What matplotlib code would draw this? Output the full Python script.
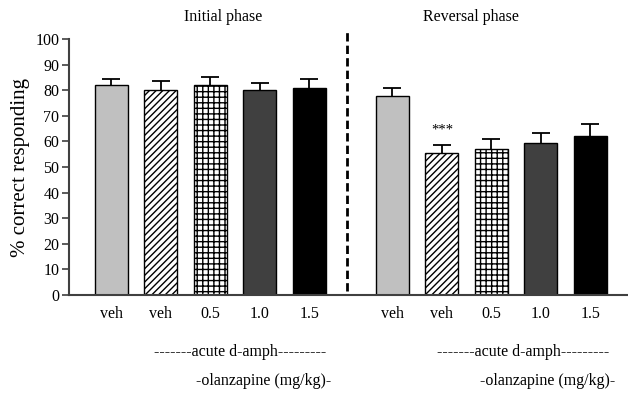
import numpy as np
import matplotlib
matplotlib.use("Agg")
import matplotlib.pyplot as plt

plt.rcParams["font.family"] = ["Liberation Serif", "DejaVu Serif"]
plt.rcParams["hatch.linewidth"] = 1.0

# data
tick_labels = ["veh", "veh", "0.5", "1.0", "1.5"]
initial_mean = [82.1, 80.3, 82.1, 80.1, 80.8]
initial_sem = [2.5, 3.5, 3.1, 2.6, 3.5]
reversal_mean = [77.8, 55.6, 57.0, 59.6, 62.0]
reversal_sem = [3.1, 3.2, 3.9, 3.9, 4.7]

colors = ["#c0c0c0", "white", "white", "#404040", "black"]
hatches = [None, "/////", "+++", None, None]

gap = 1.68
bar_w = 0.67
cap_half = 0.18
x_init = np.arange(5)
x_rev = np.arange(5) + 4 + gap

fig = plt.figure(figsize=(6.28, 3.93), dpi=100)
ax = fig.add_axes([0.110, 0.250, 0.890, 0.650])

for xs, means, sems in [(x_init, initial_mean, initial_sem), (x_rev, reversal_mean, reversal_sem)]:
    for i in range(5):
        ax.bar(xs[i], means[i], width=bar_w, color=colors[i], edgecolor="black",
               linewidth=1.0, hatch=hatches[i], zorder=2)
        top = means[i] + sems[i]
        # upper error bar only
        ax.vlines(xs[i], means[i], top, color="black", linewidth=1.3, zorder=3)
        ax.hlines(top, xs[i] - cap_half, xs[i] + cap_half, color="black",
                  linewidth=1.3, zorder=3)

ax.text(x_rev[1], reversal_mean[1] + reversal_sem[1] + 3.3, "***", ha="center",
        va="bottom", fontsize=10.5)

# dashed divider between phases
ax.plot([4.77, 4.77], [1.5, 103], color="black", linestyle=(0, (3, 1.5)),
        linewidth=2, clip_on=False, zorder=4)

ax.set_xlim(-0.85, 10.44)
ax.set_ylim(0, 100)
ax.set_yticks(np.arange(0, 101, 10))
ax.set_xticks(list(x_init) + list(x_rev))
ax.set_xticklabels(tick_labels + tick_labels)
ax.tick_params(axis="x", length=0, pad=8, labelsize=11.5)
ax.tick_params(axis="y", length=5, width=1.2, color="#404040", pad=2, labelsize=11.5)
for s in ["top", "right"]:
    ax.spines[s].set_visible(False)
for s in ["left", "bottom"]:
    ax.spines[s].set_color("#404040")
    ax.spines[s].set_linewidth(1.5)

ax.set_ylabel("% correct responding", fontsize=15, labelpad=4)

fig.text(223 / 628, 1 - 17 / 393, "Initial phase", ha="center", va="center", fontsize=11.5)
fig.text(471 / 628, 1 - 17 / 393, "Reversal phase", ha="center", va="center", fontsize=11.5)
fig.text(240 / 628, 1 - 352 / 393, "-------acute d-amph---------", ha="center", va="center", fontsize=11.5)
fig.text(523 / 628, 1 - 352 / 393, "-------acute d-amph---------", ha="center", va="center", fontsize=11.5)
fig.text(264 / 628, 1 - 381 / 393, "-olanzapine (mg/kg)-", ha="center", va="center", fontsize=11.5)
fig.text(548 / 628, 1 - 381 / 393, "-olanzapine (mg/kg)-", ha="center", va="center", fontsize=11.5)

fig.savefig("out.png", dpi=100)
